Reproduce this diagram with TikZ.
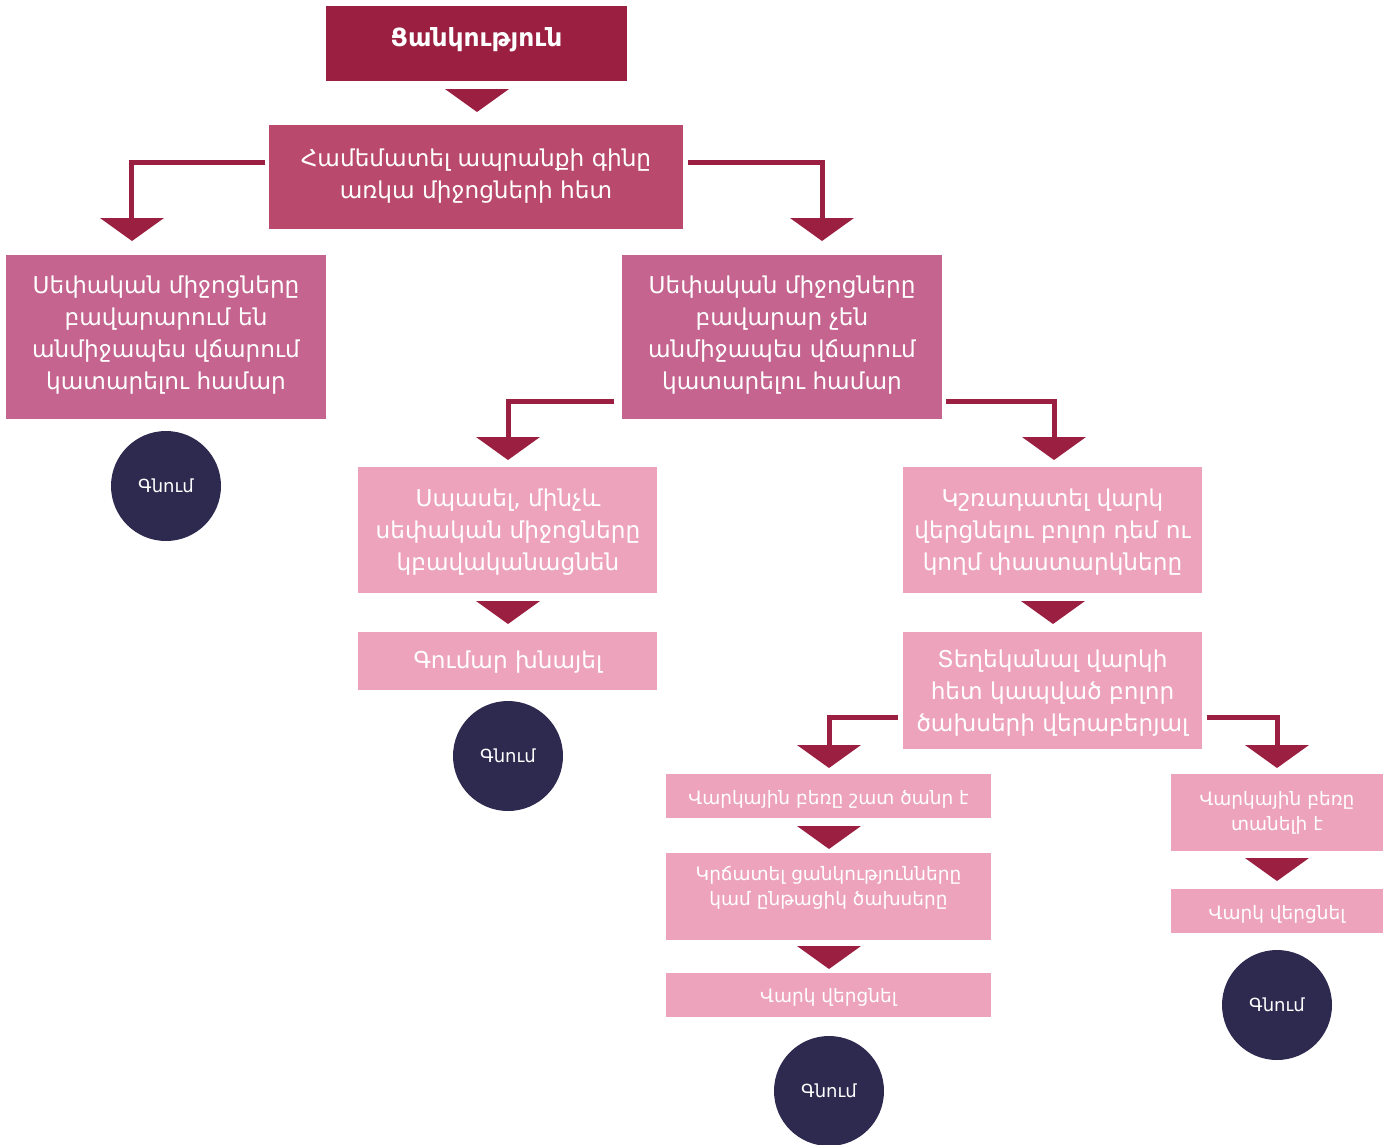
\documentclass[tikz,border=0pt]{standalone}
\usepackage{fontspec}
\setmainfont{DejaVu Sans}
\definecolor{dark}{HTML}{9B1F40}
\definecolor{rose}{HTML}{B94A6E}
\definecolor{mid}{HTML}{C4648F}
\definecolor{light}{HTML}{EDA3BC}
\definecolor{navy}{HTML}{2E2A4F}
\newcommand\dtri[2]{\fill[dark] (#1-32,#2) -- (#1+32,#2) -- (#1,#2+23) -- cycle;}
\begin{document}
\begin{tikzpicture}[x=1pt,y=-1pt,
  box/.style={inner sep=0pt, outer sep=0pt, text=white, align=center},
  bigtxt/.style={font=\fontsize{23.2}{32}\selectfont},
  smalltxt/.style={font=\fontsize{18.5}{25}\selectfont},
  endc/.style={circle, fill=navy, minimum size=110pt, inner sep=0pt, text=white, font=\fontsize{18}{20}\selectfont},
  conn/.style={draw=dark, line width=5pt}]
\useasboundingbox (0,0) rectangle (1389,1144);
% top
\fill[dark] (326,6) rectangle (627,81);
\node[box, font=\bfseries\fontsize{25}{28}\selectfont] (top) at (476.5,40) {Ցանկություն};
\dtri{477}{89}
% compare
\fill[rose] (269,125) rectangle (683,229);
\node[box,bigtxt] (cmp) at (476,176) {Համեմատել ապրանքի գինը\\առկա միջոցների հետ};
\coordinate (cmpL) at (265,162);
\coordinate (cmpR) at (688,162);
\coordinate (tL1) at (131.5,218);
\coordinate (tR1) at (822,218);
\draw[conn] (cmpL) -| (tL1);
\draw[conn] (cmpR) -| (tR1);
\dtri{132}{218}
\dtri{822}{218}
% level 1
\fill[mid] (6,255) rectangle (326,419);
\node[box,bigtxt] (yes) at (166,335) {Սեփական միջոցները\\բավարարում են\\անմիջապես վճարում\\կատարելու համար};
\node[endc] (e1) at (166,486) {Գնում};
\fill[mid] (622,255) rectangle (942,419);
\node[box,bigtxt] (no) at (782,335) {Սեփական միջոցները\\բավարար չեն\\անմիջապես վճարում\\կատարելու համար};
\coordinate (noL) at (614,401);
\coordinate (noR) at (946,401);
\coordinate (tL2) at (508,437);
\coordinate (tR2) at (1054,437);
\draw[conn] (noL) -| (tL2);
\draw[conn] (noR) -| (tR2);
\dtri{508}{437}
\dtri{1054}{437}
% wait branch
\fill[light] (358,467) rectangle (657,593);
\node[box,bigtxt] (wait) at (508,532) {Սպասել, մինչև\\սեփական միջոցները\\կբավականացնեն};
\dtri{508}{601}
\fill[light] (358,632) rectangle (657,690);
\node[box,bigtxt] (save) at (508,662) {Գումար խնայել};
\node[endc] (e2) at (508,756) {Գնում};
% weigh branch
\fill[light] (903,467) rectangle (1202,593);
\node[box,bigtxt] (weigh) at (1052.5,532) {Կշռադատել վարկ\\վերցնելու բոլոր դեմ ու\\կողմ փաստարկները};
\dtri{1053}{601}
\fill[light] (903,632) rectangle (1202,749);
\node[box,bigtxt] (learn) at (1052.5,693) {Տեղեկանալ վարկի\\հետ կապված բոլոր\\ծախսերի վերաբերյալ};
\coordinate (lrL) at (898,717);
\coordinate (lrR) at (1207,717);
\coordinate (tL3) at (829,745);
\coordinate (tR3) at (1277,745);
\draw[conn] (lrL) -| (tL3);
\draw[conn] (lrR) -| (tR3);
\dtri{829}{745}
\dtri{1277}{745}
% heavy
\fill[light] (666,774) rectangle (991,818);
\node[box,smalltxt] (heavy) at (828.5,799) {Վարկային բեռը շատ ծանր է};
\dtri{829}{826}
\fill[light] (666,853) rectangle (991,940);
\node[box,smalltxt] (cut) at (828.5,888) {Կրճատել ցանկությունները\\կամ ընթացիկ ծախսերը};
\dtri{829}{946}
\fill[light] (666,973) rectangle (991,1017);
\node[box,smalltxt] (take1) at (828.5,997) {Վարկ վերցնել};
\node[endc] (e3) at (829,1091) {Գնում};
% bearable
\fill[light] (1171,774) rectangle (1383,851);
\node[box,smalltxt] (bear) at (1277,813) {Վարկային բեռը\\տանելի է};
\dtri{1277}{858}
\fill[light] (1171,889) rectangle (1383,933);
\node[box,smalltxt] (take2) at (1277,914) {Վարկ վերցնել};
\node[endc] (e4) at (1277,1005) {Գնում};
\end{tikzpicture}
\end{document}
